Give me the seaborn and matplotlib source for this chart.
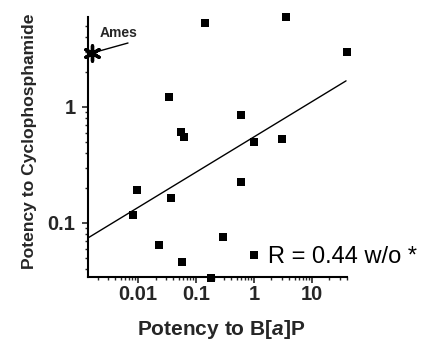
import numpy as np
import pandas as pd
import matplotlib
matplotlib.use("Agg")
import matplotlib.pyplot as plt
import seaborn as sns

# Data
bap_potency = [0.143, 0.0342, 0.055, 0.062, 3.56, 40.0, 0.60, 1.0, 3.04,
               0.0096, 0.037, 0.0082, 0.60, 0.023, 0.292, 0.057, 0.18, 1.0]
cyclo_potency = [5.3, 1.22, 0.61, 0.55, 5.97, 2.98, 0.85, 0.50, 0.53,
                 0.192, 0.164, 0.117, 0.226, 0.0646, 0.0757, 0.046, 0.0336, 0.053]
ames_x = [0.00161]
ames_y = [2.92]
fit_x = [0.00137, 38.6]
fit_y = [0.0743, 1.68]
xticks = [0.01, 0.1, 1, 10]
xticklabels = ["0.01", "0.1", "1", "10"]
yticks = [0.1, 1]
yticklabels = ["0.1", "1"]

sns.set_style("ticks")
plt.rcParams['font.family'] = ['Liberation Sans', 'DejaVu Sans']
plt.rcParams['mathtext.fontset'] = 'custom'
plt.rcParams['mathtext.it'] = 'Liberation Sans:italic:bold'
plt.rcParams['mathtext.rm'] = 'Liberation Sans:bold'

W, H = 432, 341
fig = plt.figure(figsize=(W / 100, H / 100), dpi=100)
ax = fig.add_axes([88 / W, 1 - 277 / H, 259 / W, 260 / H])

df = pd.DataFrame({"x": bap_potency, "y": cyclo_potency})
sns.scatterplot(data=df, x="x", y="y", marker="s", s=38, color="black",
                edgecolor="black", linewidth=0, ax=ax, clip_on=False, zorder=3)
sns.lineplot(x=fit_x, y=fit_y, color="black", linewidth=1.0, ax=ax)
sns.scatterplot(x=ames_x, y=ames_y, marker=(6, 2, 0), s=120, color="black",
                linewidth=2.4, ax=ax, clip_on=False, zorder=4)

ax.set_xscale("log")
ax.set_yscale("log")
ax.set_xlim(0.00137, 40.1)
ax.set_ylim(0.0342, 5.97)

ax.set_xticks(xticks)
ax.set_xticklabels(xticklabels, fontsize=14.5, fontweight="bold")
ax.set_yticks(yticks)
ax.set_yticklabels(yticklabels, fontsize=14.5, fontweight="bold")
ax.tick_params(axis="x", which="major", direction="out", length=4, width=1.2, pad=2)
ax.tick_params(axis="y", which="major", direction="out", length=4, width=1.2, pad=5)
ax.tick_params(axis="both", which="minor", direction="out", length=2.5, width=1.0)

for s in ["top", "right"]:
    ax.spines[s].set_visible(False)
for s in ["left", "bottom"]:
    ax.spines[s].set_linewidth(1.5)
    ax.spines[s].set_color("black")

ax.set_xlabel(r"Potency to B[$\mathit{a}$]P", fontsize=15, fontweight="bold")
ax.set_ylabel("Potency to Cyclophosphamide", fontsize=12.6, fontweight="bold")
ax.xaxis.set_label_coords(133 / 259, -(318 - 277) / 260)
ax.yaxis.set_label_coords(-(88 - 37) / 259, 0.521)

fig.text(100 / W, 1 - 33 / H, "Ames", fontsize=10, fontweight="bold",
         ha="left", va="center")
ax.annotate("", xy=(ames_x[0], ames_y[0]), xytext=(128, H - 43),
            textcoords="figure pixels",
            arrowprops=dict(arrowstyle="-", color="black", lw=1.0,
                            shrinkA=0, shrinkB=3))

fig.text(268 / W, 1 - 257 / H, "R = 0.44 w/o *", fontsize=17,
         ha="left", va="center", color="black")

fig.savefig("out.png", dpi=100)
